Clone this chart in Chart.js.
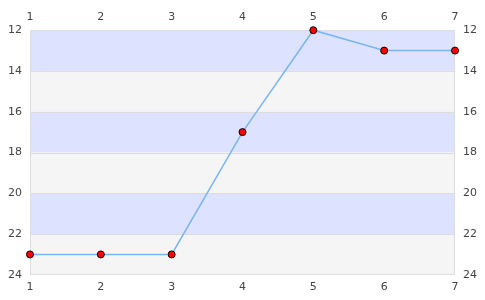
<!DOCTYPE html>
<html>
<head>
<meta charset="utf-8">
<script src="https://cdn.jsdelivr.net/npm/chart.js@4"></script>
<style>
  html, body { margin: 0; padding: 0; background: #fff; }
  #wrap { width: 485px; height: 300px; }
</style>
</head>
<body>
<div id="wrap"><canvas id="chart"></canvas></div>
<script>
// données
const xValues = [1, 2, 3, 4, 5, 6, 7];
const yValues = [23, 23, 23, 17, 12, 13, 13];
// bandes de fond (début, fin, couleur)
const bandStarts = [12, 14, 16, 18, 20, 22];
const bandEnds = [14, 16, 18, 20, 22, 24];
const bandColors = ['#dde3ff', '#f5f5f5', '#dde3ff', '#f5f5f5', '#dde3ff', '#f5f5f5'];

const bandsPlugin = {
  id: 'bands',
  beforeDatasetsDraw(chart) {
    const {ctx, chartArea, scales} = chart;
    const y = scales.y;
    ctx.save();
    bandStarts.forEach((s, i) => {
      const p1 = y.getPixelForValue(s);
      const p2 = y.getPixelForValue(bandEnds[i]);
      ctx.fillStyle = bandColors[i];
      ctx.fillRect(chartArea.left, Math.min(p1, p2), chartArea.right - chartArea.left, Math.abs(p2 - p1));
    });
    // lignes de séparation
    ctx.strokeStyle = '#dddddd';
    ctx.lineWidth = 1;
    bandStarts.slice(1).forEach(s => {
      const p = Math.round(y.getPixelForValue(s)) + 0.5;
      ctx.beginPath();
      ctx.moveTo(chartArea.left, p);
      ctx.lineTo(chartArea.right, p);
      ctx.stroke();
    });
    ctx.strokeRect(chartArea.left + 0.5, chartArea.top + 0.5, chartArea.right - chartArea.left - 1, chartArea.bottom - chartArea.top - 1);
    ctx.restore();
  }
};

const tickFont = {family: 'DejaVu Sans', size: 11};
const tickColor = '#444';

function xAxis(pos) {
  return {
    type: 'linear', position: pos, min: 1, max: 7,
    grid: {display: false, drawTicks: false},
    border: {display: false},
    ticks: {stepSize: 1, font: tickFont, color: tickColor, padding: 6}
  };
}
function yAxis(pos) {
  return {
    type: 'linear', position: pos, reverse: true, min: 12, max: 24,
    grid: {display: false, drawTicks: false},
    border: {display: false},
    ticks: {stepSize: 2, font: tickFont, color: tickColor, padding: 8}
  };
}

new Chart(document.getElementById('chart'), {
  type: 'line',
  data: {
    datasets: [{
      data: xValues.map((x, i) => ({x, y: yValues[i]})),
      borderColor: '#7ab6f2',
      borderWidth: 1.5,
      pointBackgroundColor: '#ff0000',
      pointBorderColor: '#000',
      pointBorderWidth: 1,
      pointRadius: 3.5,
      tension: 0,
      clip: false
    }]
  },
  options: {
    responsive: true,
    maintainAspectRatio: false,
    animation: false,
    layout: {padding: {left: 0, right: 0, top: 5, bottom: 0}},
    plugins: {legend: {display: false}, tooltip: {enabled: false}},
    scales: {
      x: xAxis('bottom'),
      x2: xAxis('top'),
      y: yAxis('left'),
      y2: yAxis('right')
    }
  },
  plugins: [bandsPlugin]
});
</script>
</body>
</html>
